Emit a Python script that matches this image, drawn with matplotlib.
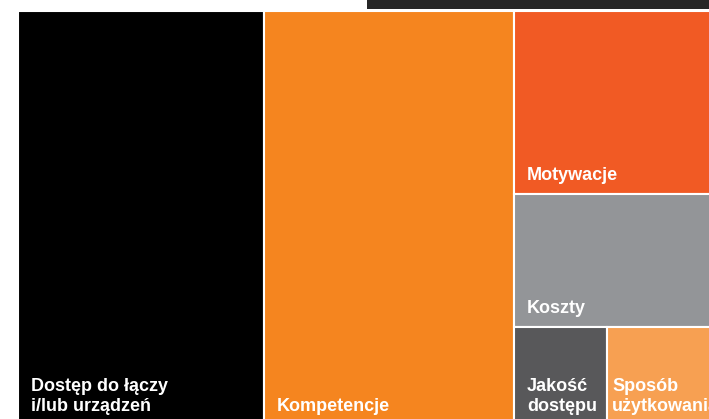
import matplotlib.pyplot as plt
from matplotlib.patches import Rectangle

plt.rcParams["font.family"] = ["Liberation Sans", "DejaVu Sans"]

# share of answers (%)
labels = ["Dostęp do łączy\ni/lub urządzeń", "Kompetencje", "Motywacje",
          "Koszty", "Jakość\ndostępu", "Sposób\nużytkowania"]
values = [34.5, 35.1, 13.4, 9.7, 3.1, 4.1]
colors = ["#000000", "#F5851F", "#F15A24", "#939598", "#58585A", "#F7A052"]

# treemap box in pixel space (it runs off the right/bottom edge of the page)
X0, Y0, W, H = 18, 11, 712, 414


def layout(vals):
    scale = W * H / sum(vals)
    rects = []
    x = X0
    # two big tiles take full height
    for v in vals[:2]:
        w = v * scale / H
        rects.append((x, Y0, w, H))
        x += w
    # the rest share the last column
    rw = sum(vals[2:]) * scale / H
    y = Y0
    for v in vals[2:4]:
        h = v * scale / rw
        rects.append((x, y, rw, h))
        y += h
    hb = sum(vals[4:]) * scale / rw
    xx = x
    for v in vals[4:]:
        w = v * scale / hb
        rects.append((xx, y, w, hb))
        xx += w
    return rects


fig = plt.figure(figsize=(7.09, 4.19), dpi=100)
ax = fig.add_axes([0, 0, 1, 1])
ax.set_xlim(0, 709)
ax.set_ylim(419, 0)
ax.axis("off")

# dark strip at the top of the page
ax.add_patch(Rectangle((367, 0), 342, 9, color="#262626", lw=0))

for i, ((x, y, w, h), lab, c) in enumerate(zip(layout(values), labels, colors)):
    ax.add_patch(Rectangle((x, y), w, h, facecolor=c, edgecolor="white", lw=1.5))
    pad = 5 if i == len(values) - 1 else 13  # last label squeezed to the left in the original
    ax.text(x + pad, y + h - 10, lab, color="white", fontsize=13, fontweight="bold",
            ha="left", va="bottom", linespacing=1.25, clip_on=True)

fig.savefig("out.png", dpi=100)
